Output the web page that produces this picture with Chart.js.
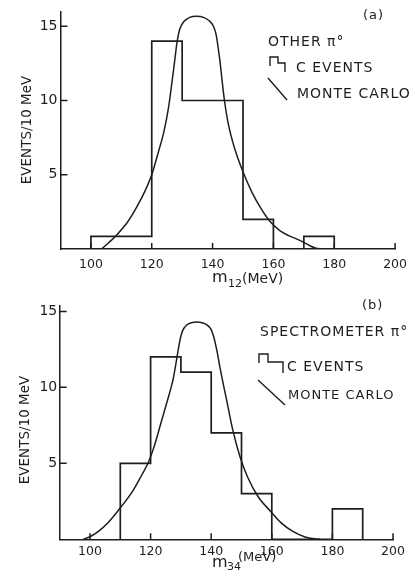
<!DOCTYPE html>
<html><head><meta charset="utf-8">
<script src="https://cdn.jsdelivr.net/npm/chart.js@4.4.0/dist/chart.umd.min.js"></script>
<style>
html,body{margin:0;padding:0;background:#fff;}
#wrap{position:relative;width:415px;height:577px;overflow:hidden;background:#fff;}
canvas{position:absolute;left:0;}
</style></head><body>
<div id="wrap">
<canvas id="ca" width="415" height="290" style="top:0"></canvas>
<canvas id="cb" width="415" height="287" style="top:290px"></canvas>
</div>
<script>
// ---------- Panel (a): other pi0 ----------
const binLoA   = [100, 120, 130, 150, 160, 170];
const binHiA   = [120, 130, 150, 160, 170, 180];
const countsA  = [0.85, 14, 10, 2, 0, 0.85];
const mcMassA  = [103.5, 106, 108.4, 112, 115, 118, 120, 122, 124, 125.5, 126.5, 127.5, 128.3, 129.2, 130.5, 132.5, 134.7, 137, 139, 140.3, 141.2, 141.8, 142.4, 143.1, 143.9, 145, 146.5, 148, 150, 153, 156, 158.7, 162, 165, 167.4, 170, 172, 174, 176];
const mcEventsA= [0, 0.45, 0.93, 1.8, 2.8, 4.0, 5.0, 6.4, 7.9, 9.5, 11.0, 12.6, 13.9, 14.8, 15.3, 15.6, 15.67, 15.6, 15.35, 15.0, 14.4, 13.6, 12.7, 11.4, 10.0, 8.6, 7.3, 6.3, 5.2, 3.8, 2.7, 1.9, 1.25, 0.9, 0.7, 0.45, 0.22, 0.05, 0];

// ---------- Panel (b): spectrometer pi0 ----------
const binLoB   = [110, 120, 130, 140, 150, 160, 170, 180];
const binHiB   = [120, 130, 140, 150, 160, 170, 180, 190];
const countsB  = [5, 12, 11, 7, 3, 0, 0, 2];
const mcMassB  = [97.8, 100, 103, 106, 109.9, 114.3, 117, 119.2, 121, 123.7, 125.5, 126.7, 127.5, 128.3, 129.1, 129.8, 130.5, 131.9, 133.5, 135.2, 137, 139, 140, 140.8, 141.8, 142.9, 144, 145.1, 147, 149.5, 152, 155.5, 159.7, 163, 167.1, 171, 174.8, 176];
const mcEventsB= [0, 0.17, 0.55, 1.1, 2.04, 3.24, 4.2, 5.04, 6.0, 7.85, 9.1, 9.95, 10.6, 11.5, 12.45, 13.2, 13.7, 14.1, 14.25, 14.3, 14.25, 14.05, 13.8, 13.35, 12.5, 11.3, 10.2, 9.16, 7.3, 5.43, 4.1, 2.8, 1.82, 1.1, 0.5, 0.15, 0.02, 0];

// ---------- Axis ticks ----------
const xTickLabels = [100, 120, 140, 160, 180, 200];
const yTickLabels = [5, 10, 15];

const INK = '#1e1e1e';
const FONT = "'DejaVu Sans', sans-serif";

function histPoints(lo, hi, c) {
  const pts = [{x: lo[0], y: 0}];
  for (let i = 0; i < lo.length; i++) {
    pts.push({x: lo[i], y: c[i]});
    pts.push({x: hi[i], y: c[i]});
  }
  pts.push({x: hi[hi.length - 1], y: 0});
  return pts;
}

const decor = {
  id: 'decor',
  afterDraw(chart, args, o) {
    const {ctx, chartArea: a, scales: {x, y}} = chart;
    ctx.save();
    ctx.strokeStyle = INK; ctx.fillStyle = INK; ctx.lineWidth = 1.5;
    // inward tick marks
    ctx.beginPath();
    x.ticks.forEach(t => { const px = x.getPixelForValue(t.value); ctx.moveTo(px, a.bottom); ctx.lineTo(px, a.bottom - 6); });
    y.ticks.forEach(t => { const py = y.getPixelForValue(t.value); ctx.moveTo(a.left, py); ctx.lineTo(a.left + 7, py); });
    ctx.stroke();
    // y title
    ctx.save();
    ctx.translate(o.yTitle.x, o.yTitle.y);
    ctx.rotate(-Math.PI / 2);
    ctx.font = '13.5px ' + FONT;
    ctx.textAlign = 'center'; ctx.textBaseline = 'middle';
    ctx.fillText('EVENTS/10 MeV', 0, 0);
    ctx.restore();
    // x title with subscript
    ctx.textAlign = 'left'; ctx.textBaseline = 'alphabetic';
    const t = o.xTitle;
    ctx.font = '16px ' + FONT; ctx.fillText('m', t.mx, t.mb);
    ctx.font = '11px ' + FONT; ctx.fillText(t.sub, t.sx, t.sb);
    ctx.font = t.size + 'px ' + FONT; ctx.fillText('(MeV)', t.px, t.pb);
    // legend
    ctx.textBaseline = 'middle';
    ctx.letterSpacing = '1px';
    o.texts.forEach(s => { ctx.font = s.size + 'px ' + FONT; ctx.fillText(s.text, s.x, s.y); });
    ctx.letterSpacing = '0px';
    ctx.lineWidth = 1.4;
    ctx.beginPath();
    o.step.forEach((p, i) => i ? ctx.lineTo(p[0], p[1]) : ctx.moveTo(p[0], p[1]));
    ctx.stroke();
    ctx.beginPath();
    ctx.moveTo(o.diag[0], o.diag[1]); ctx.lineTo(o.diag[2], o.diag[3]);
    ctx.stroke();
    ctx.restore();
  }
};

function build(id, d) {
  return new Chart(document.getElementById(id), {
    type: 'line',
    data: { datasets: [
      { data: histPoints(d.lo, d.hi, d.counts), borderColor: INK, borderWidth: 1.7, pointRadius: 0, tension: 0, fill: false },
      { data: d.mcX.map((v, i) => ({x: v, y: d.mcY[i]})), borderColor: INK, borderWidth: 1.5, pointRadius: 0, cubicInterpolationMode: 'monotone', fill: false }
    ]},
    options: {
      responsive: false, animation: false, devicePixelRatio: 1,
      layout: { padding: { left: 0, top: d.top, right: d.right, bottom: 0 } },
      plugins: { legend: {display: false}, tooltip: {enabled: false}, decor: d },
      scales: {
        x: { type: 'linear', min: 90, max: 200,
             afterBuildTicks: s => { s.ticks = xTickLabels.map(v => ({value: v})); },
             afterFit: s => { s.height = d.xh; },
             grid: {display: false, drawTicks: false},
             border: {display: true, color: INK, width: 1.5},
             ticks: { color: INK, font: {family: FONT, size: 12.5}, padding: d.xpad, maxRotation: 0, autoSkip: false, callback: v => String(v) } },
        y: { type: 'linear', min: 0, max: d.ymax,
             afterBuildTicks: s => { s.ticks = yTickLabels.map(v => ({value: v})); },
             afterFit: s => { s.width = d.left; },
             grid: {display: false, drawTicks: false},
             border: {display: true, color: INK, width: 1.5},
             ticks: { color: INK, font: {family: FONT, size: 14}, padding: d.ypad, callback: v => String(v) } }
      }
    },
    plugins: [decor]
  });
}

build('ca', {
  lo: binLoA, hi: binHiA, counts: countsA, mcX: mcMassA, mcY: mcEventsA,
  top: 9, right: 19, left: 60.5, xh: 41, ymax: 16, xpad: 8, ypad: 3,
  yTitle: {x: 27.5, y: 130},
  xTitle: {mx: 212, mb: 282, sub: '12', sx: 228, sb: 287, px: 242, pb: 283, size: 14},
  texts: [
    {text: '(a)', x: 363, y: 16, size: 13},
    {text: 'OTHER \u03C0\u00B0', x: 268, y: 42, size: 14},
    {text: 'C EVENTS', x: 296, y: 68, size: 14},
    {text: 'MONTE CARLO', x: 297, y: 94, size: 14}
  ],
  step: [[270, 66], [270, 57], [278, 57], [278, 63], [285, 63], [285, 72]],
  diag: [268, 78, 287, 100]
});

build('cb', {
  lo: binLoB, hi: binHiB, counts: countsB, mcX: mcMassB, mcY: mcEventsB,
  top: 15.3, right: 22, left: 59.7, xh: 37.7, ymax: 15.4, xpad: 4.5, ypad: 2.5,
  yTitle: {x: 25, y: 140},
  xTitle: {mx: 212, mb: 277, sub: '34', sx: 227, sb: 280, px: 238, pb: 271, size: 13},
  texts: [
    {text: '(b)', x: 362, y: 16, size: 13},
    {text: 'SPECTROMETER \u03C0\u00B0', x: 260, y: 42, size: 14},
    {text: 'C EVENTS', x: 287, y: 77, size: 14},
    {text: 'MONTE CARLO', x: 288, y: 106, size: 13}
  ],
  step: [[259, 73], [259, 64], [268, 64], [268, 72], [283, 72], [283, 83]],
  diag: [258, 90, 285, 115]
});
</script>
</body></html>
